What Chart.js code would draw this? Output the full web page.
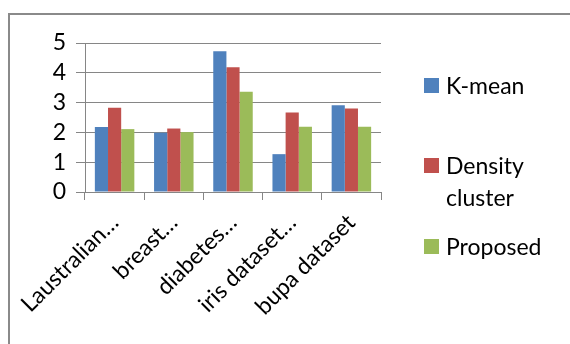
<!DOCTYPE html>
<html>
<head>
<meta charset="utf-8">
<script src="https://cdn.jsdelivr.net/npm/chart.js@4/dist/chart.umd.min.js"></script>
<style>
  html, body { margin: 0; padding: 0; background: #fff; }
  #wrap { position: relative; width: 570px; height: 344px; overflow: hidden; background: #fff; }
  #frame { position: absolute; left: 8px; top: 13px; width: 600px; height: 400px;
           border: 2px solid #8a8a8a; box-sizing: border-box; }
  canvas { position: absolute; left: 0; top: 0; }
  .leg { position: absolute; left: 424px; font-family: Lato, "Open Sans", sans-serif;
         font-size: 23px; color: #000; }
  .leg .sw { position: absolute; left: 0; width: 15px; height: 15px; }
  .leg .tx { position: absolute; left: 22px; white-space: nowrap; line-height: 32px; }
</style>
</head>
<body>
<div id="wrap">
  <div id="frame"></div>
  <canvas id="c" width="570" height="344"></canvas>
  <div id="legend"></div>
</div>
<script>
// Datasets compared across five benchmark data files
const categories = ["Laustralian…", "breast…", "diabetes…", "iris dataset…", "bupa dataset"];
const kMean = [2.18, 1.99, 4.72, 1.27, 2.91];
const densityCluster = [2.83, 2.13, 4.19, 2.67, 2.80];
const proposed = [2.11, 2.01, 3.36, 2.19, 2.19];
const yTicks = [0, 1, 2, 3, 4, 5];

const seriesNames = ["K-mean", ["Density", "cluster"], "Proposed"];
const seriesColors = ["#4F81BD", "#C0504D", "#9BBB59"];
const seriesValues = [kMean, densityCluster, proposed];

const FONT = "Lato, 'Open Sans', sans-serif";
const GRID = "#868686";

new Chart(document.getElementById("c"), {
  type: "bar",
  data: {
    labels: categories,
    datasets: seriesValues.map((vals, i) => ({
      label: Array.isArray(seriesNames[i]) ? seriesNames[i].join(" ") : seriesNames[i],
      data: vals,
      backgroundColor: seriesColors[i],
      borderWidth: 0,
      categoryPercentage: 0.667,
      barPercentage: 1
    }))
  },
  options: {
    responsive: false,
    animation: false,
    devicePixelRatio: 1,
    layout: { padding: { left: 0, right: 189, top: 43, bottom: 0 } },
    plugins: { legend: { display: false }, tooltip: { enabled: false } },
    scales: {
      x: {
        offset: true,
        grid: { drawOnChartArea: false, drawTicks: true, tickLength: 8, color: GRID, offset: true },
        border: { display: true, color: GRID, width: 1 },
        ticks: {
          autoSkip: false, maxRotation: 45, minRotation: 45, padding: 9,
          color: "#000", font: { family: FONT, size: 23 }
        },
        afterFit: (s) => { s.height = 152; }
      },
      y: {
        min: yTicks[0], max: yTicks[yTicks.length - 1],
        afterBuildTicks: (s) => { s.ticks = yTicks.map(v => ({ value: v })); },
        grid: { color: GRID, lineWidth: 1, tickLength: 9, drawTicks: true },
        border: { display: true, color: GRID, width: 1 },
        ticks: { autoSkip: false, stepSize: 1, padding: 10, color: "#000", font: { family: FONT, size: 23 } },
        afterFit: (s) => { s.width = 85; }
      }
    }
  }
});

// Legend on the right, one entry per series
const legendTops = [78, 158, 239];
const legend = document.getElementById("legend");
seriesNames.forEach((name, i) => {
  const item = document.createElement("div");
  item.className = "leg";
  item.style.top = legendTops[i] + "px";
  const sw = document.createElement("div");
  sw.className = "sw";
  sw.style.background = seriesColors[i];
  sw.style.top = "0px";
  const tx = document.createElement("div");
  tx.className = "tx";
  tx.style.top = "-9px";
  tx.innerHTML = (Array.isArray(name) ? name : [name]).join("<br>");
  item.appendChild(sw);
  item.appendChild(tx);
  legend.appendChild(item);
});
</script>
</body>
</html>
